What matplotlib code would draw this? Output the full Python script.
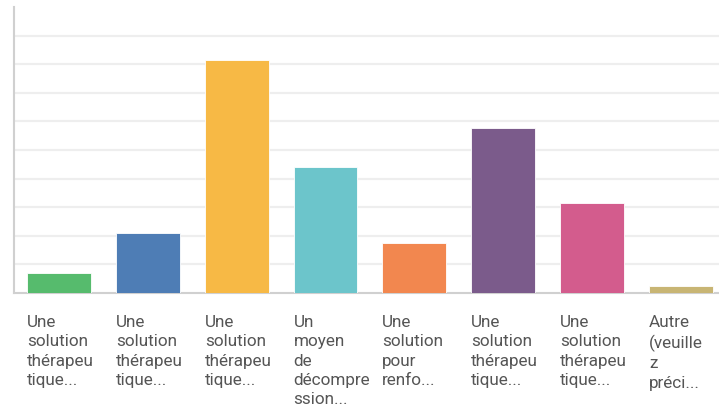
import matplotlib.pyplot as plt

# reponses (multi-choix) en pourcentage
labels = ["Une\nsolution\nthérapeu\ntique...",
          "Une\nsolution\nthérapeu\ntique...",
          "Une\nsolution\nthérapeu\ntique...",
          "Un\nmoyen\nde\ndécompre\nssion...",
          "Une\nsolution\npour\nrenfo...",
          "Une\nsolution\nthérapeu\ntique...",
          "Une\nsolution\nthérapeu\ntique...",
          "Autre\n(veuille\nz\npréci..."]
values = [7.0, 21.0, 81.4, 44.0, 17.5, 57.6, 31.5, 2.6]
colors = ["#56bb6d", "#4e7db5", "#f7b945", "#6cc5cb",
          "#f2874f", "#7b5b8b", "#d35c8d", "#c8b574"]

W, H = 719, 409
fig = plt.figure(figsize=(W / 100, H / 100), dpi=100)
ax = fig.add_axes([14 / W, (H - 293) / H, (W - 14) / W, (293 - 7) / H])

x = list(range(len(values)))
ax.bar(x, values, width=0.72, color=colors, edgecolor="white", linewidth=0.6, zorder=3)

ax.set_xlim(-0.507, 7.43)
ax.set_ylim(0, 100)
ax.set_yticks(range(10, 100, 10))
ax.yaxis.grid(True, color="#eeeeee", linewidth=1.6, zorder=0)
ax.tick_params(left=False, bottom=False, labelleft=False, labelbottom=False)

for s in ["top", "right"]:
    ax.spines[s].set_visible(False)
ax.spines["left"].set_color("#d0d0d0")
ax.spines["left"].set_linewidth(1.5)
ax.spines["bottom"].set_color("#d0d0d0")
ax.spines["bottom"].set_linewidth(1.5)

# libelles sous les barres, alignes a gauche
for i, lab in enumerate(labels):
    ax.text(i - 0.36, -7.6, lab, transform=ax.transData, ha="left", va="top",
            fontsize=12.3, family="Roboto", color="#555555", linespacing=1.37)

plt.savefig("out.png", dpi=100)
